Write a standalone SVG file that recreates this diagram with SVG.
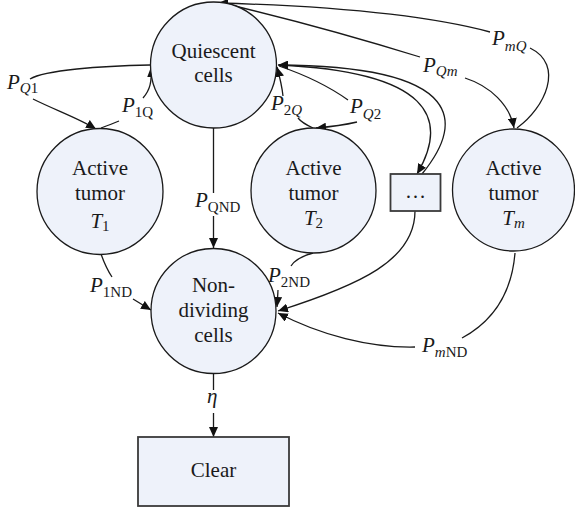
<svg xmlns="http://www.w3.org/2000/svg" width="575" height="510" viewBox="0 0 575 510">
<defs>
<style>
.node{fill:#EEF2FA;stroke:#1a1a1a;stroke-width:1.3}
.box{fill:#EEF2FA;stroke:#3a3a3a;stroke-width:1.8}
text{font-family:'Liberation Serif','DejaVu Serif',serif}
.t{font-size:21px;fill:#1a1a1a;text-anchor:middle}
.lab{font-size:21px;fill:#1a1a1a;font-style:italic}
.sub{font-size:15px;font-style:normal}
.si{font-size:15px;font-style:italic}
.c{fill:none;stroke:#1a1a1a;stroke-width:1.3}
.a{marker-end:url(#ah)}
</style>
<marker id="ah" markerUnits="userSpaceOnUse" markerWidth="11" markerHeight="9" refX="10" refY="4.5" orient="auto">
<path d="M0,0 L10,4.5 L0,9 z" fill="#111"/>
</marker>
</defs>
<rect width="575" height="510" fill="#fff"/>

<g id="connectors">
<path class="c" d="M150,65 C100,66 45,70 30,79"/>
<path class="c a" d="M33,99 C55,110 78,118 96,129"/>
<path class="c" d="M101,128 Q112,124 119,121"/>
<path class="c a" d="M143,98 C150,90 152,82 151,67"/>
<path class="c" d="M213.5,128 V193"/>
<path class="c a" d="M213.5,216 V248"/>
<path class="c" d="M313,128 Q302,123 298,118"/>
<path class="c a" d="M283,96 C282,86 280,78 277,67"/>
<path class="c" d="M279,66 Q320,80 348,100"/>
<path class="c a" d="M357,122 Q340,126 316,128"/>
<path class="c a" d="M279,65 C430,72 450,118 417,174"/>
<path class="c a" d="M422,174 C462,125 470,66 278,65"/>
<path class="c a" d="M415,211 C415,260 360,285 278,311"/>
<path class="c" d="M313,253 C302,256 294,261 291,266"/>
<path class="c a" d="M278,290 L277,307"/>
<path class="c" d="M515,253 C512,290 495,320 462,338"/>
<path class="c a" d="M415,347 C370,348 320,335 278,313"/>
<path class="c" d="M101,254 Q106,268 112,277"/>
<path class="c a" d="M133,299 L151,310"/>
<path class="c" d="M213.5,374 V390"/>
<path class="c a" d="M213.5,413 V437"/>
<path class="c" d="M222,3 Q320,26 420,57"/>
<path class="c a" d="M465,78 C490,86 510,105 514,128"/>
<path class="c" d="M517,128 C545,108 565,65 530,48"/>
<path class="c a" d="M490,32 Q400,8 218,3"/>
</g>

<g id="labels" font-family="Liberation Serif, DejaVu Serif, serif">
<text class="lab" x="7" y="89">P<tspan class="si" dy="4">Q</tspan><tspan class="sub">1</tspan></text>
<text class="lab" x="122" y="112">P<tspan class="sub" dy="5">1Q</tspan></text>
<text class="lab" x="195" y="207">P<tspan class="sub" dy="5">QND</tspan></text>
<text class="lab" x="271" y="110">P<tspan class="sub" dy="5">2</tspan><tspan class="si">Q</tspan></text>
<text class="lab" x="350" y="113">P<tspan class="si" dy="6">Q</tspan><tspan class="sub">2</tspan></text>
<text class="lab" x="423" y="72">P<tspan class="si" dy="4">Qm</tspan></text>
<text class="lab" x="492" y="45">P<tspan class="si" dy="6">mQ</tspan></text>
<text class="lab" x="90" y="292">P<tspan class="sub" dy="5">1ND</tspan></text>
<text class="lab" x="268" y="282">P<tspan class="sub" dy="5">2ND</tspan></text>
<text class="lab" x="422" y="352">P<tspan class="si" dy="5">m</tspan><tspan class="sub">ND</tspan></text>
<text class="lab" x="207" y="403">η</text>
</g>

<g id="quiescent">
<circle class="node" cx="213.5" cy="65" r="63"/>
<text class="t" x="213.5" y="58">Quiescent</text>
<text class="t" x="213.5" y="82">cells</text>
</g>
<g id="t1">
<circle class="node" cx="100" cy="191.5" r="63"/>
<text class="t" x="100" y="175">Active</text>
<text class="t" x="100" y="200">tumor</text>
<text class="t" x="100" y="228"><tspan font-style="italic">T</tspan><tspan font-size="15" dy="3">1</tspan></text>
</g>
<g id="t2">
<circle class="node" cx="313.5" cy="190.5" r="62.5"/>
<text class="t" x="313.5" y="175">Active</text>
<text class="t" x="313.5" y="200">tumor</text>
<text class="t" x="313.5" y="225"><tspan font-style="italic">T</tspan><tspan font-size="15" dy="3">2</tspan></text>
</g>
<g id="dots">
<rect class="box" x="390.5" y="174" width="50" height="37"/>
<text class="t" x="415.5" y="198">…</text>
</g>
<g id="tm">
<circle class="node" cx="513.5" cy="190" r="61"/>
<text class="t" x="513.5" y="175">Active</text>
<text class="t" x="513.5" y="200">tumor</text>
<text class="t" x="513.5" y="225"><tspan font-style="italic">T</tspan><tspan font-size="15" font-style="italic" dy="3">m</tspan></text>
</g>
<g id="nondividing">
<circle class="node" cx="213.5" cy="311" r="62.5"/>
<text class="t" x="213.5" y="292">Non-</text>
<text class="t" x="213.5" y="317">dividing</text>
<text class="t" x="213.5" y="342">cells</text>
</g>
<g id="clear">
<rect class="box" x="138" y="437" width="151" height="69"/>
<text class="t" x="213.5" y="477">Clear</text>
</g>
</svg>
